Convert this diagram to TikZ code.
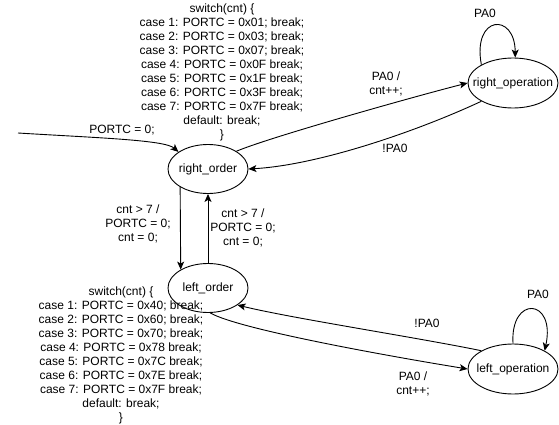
\documentclass[tikz,border=0pt]{standalone}
\usepackage{fontspec}
\setmainfont{Liberation Sans}
\usetikzlibrary{shapes.geometric,arrows.meta}

\begin{document}
\begin{tikzpicture}[x=1pt,y=-1pt,line width=0.9pt,
	>={Stealth[length=8pt,width=7pt,inset=2pt]},
	every node/.style={font=\fontsize{12}{14}\selectfont,align=center,inner sep=0pt},
	every label/.style={anchor=center},
	state/.style={draw,ellipse,minimum width=80pt,minimum height=49pt},
	opstate/.style={state,minimum width=90pt,minimum height=50pt}]

\useasboundingbox (0,0) rectangle (559,425);

% states
\foreach \n/\x/\y/\t in {ro/208/169/right\_order,lo/208/288/left\_order} {
	\node [state,label=center:\t] (\n) at (\x,\y) {};
}
\foreach \n/\x/\y/\t in {rop/513/83/right\_operation,lop/513/369/left\_operation} {
	\node [opstate,label=center:\t] (\n) at (\x,\y) {};
}

% switch blocks
\node (rsw) at (222,72) {switch(cnt) \{\\
	case 1: PORTC = 0x01; break;\\
	case 2: PORTC = 0x03; break;\\
	case 3: PORTC = 0x07; break;\\
	case 4: PORTC = 0x0F break;\\
	case 5: PORTC = 0x1F break;\\
	case 6: PORTC = 0x3F break;\\
	case 7: PORTC = 0x7F break;\\
	default: break;\\
	\}};
\node (lsw) at (121,355) {switch(cnt) \{\\
	case 1: PORTC = 0x40; break;\\
	case 2: PORTC = 0x60; break;\\
	case 3: PORTC = 0x70; break;\\
	case 4: PORTC = 0x78 break;\\
	case 5: PORTC = 0x7C break;\\
	case 6: PORTC = 0x7E break;\\
	case 7: PORTC = 0x7F break;\\
	default: break;\\
	\}};

% edge labels
\node (init label) at (122,130) {PORTC = 0;};
\node (r go) at (386,84) {PA0 /\\cnt++;};
\node (r back) at (395,148) {!PA0};
\node (r loop) at (485,13) {PA0};
\node (down label) at (138,224) {cnt > 7 /\\PORTC = 0;\\cnt = 0;};
\node (up label) at (243,228) {cnt > 7 /\\PORTC = 0;\\cnt = 0;};
\node (l back) at (427,323) {!PA0};
\node (l go) at (413,384) {PA0 /\\cnt++;};
\node (l loop) at (538,294) {PA0};

% transitions
\coordinate (init) at (18,133);
\draw [->] (init) .. controls (100,138) and (165,140) .. (ro.150);
\draw [->] (ro.32) .. controls (270,137) and (420,95) .. (rop.180);
\draw [->] (rop.210) .. controls (420,130) and (320,165) .. (ro.0);
\draw [->] (rop.150) .. controls (472,15) and (515,12) .. (rop.85);
\draw [->] (ro.213) -- (lo.146);
\draw [->] (lo.north) -- (ro.south);
\draw [->] (lop.150) .. controls (420,338) and (290,318) .. (lo.-30);
\draw [->] (lo.-85) .. controls (240,330) and (400,358) .. (lop.180);
\draw [->] (lop.north) .. controls (510,295) and (556,298) .. (lop.30);

\end{tikzpicture}
\end{document}
